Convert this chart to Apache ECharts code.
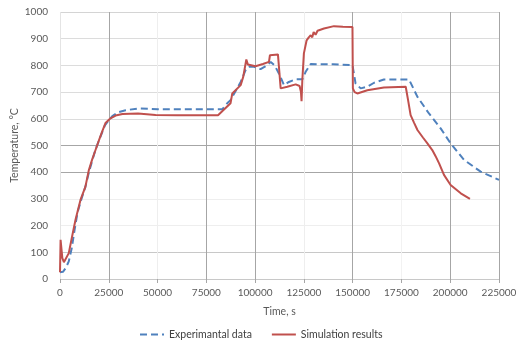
<!DOCTYPE html>
<html>
<head>
<meta charset="utf-8">
<script src="https://cdn.jsdelivr.net/npm/echarts@6/dist/echarts.min.js"></script>
<style>
  html, body { margin: 0; padding: 0; background: #fff; }
  #main { width: 517px; height: 340px; }
</style>
</head>
<body>
<div id="main"></div>
<script>
// time (s) / temperature (°C)
var expTime = [0, 1500, 3000, 4500, 6000, 7500, 9000, 11000, 13000, 15000, 18000, 20000, 23000, 25000, 26800, 30000, 33600, 40300, 50000, 83200, 85700, 87400, 92600, 95100, 96800, 99400, 102800, 105000, 108000, 110000, 112200, 114800, 117300, 120800, 124200, 125900, 128500, 140000, 149900, 151500, 154100, 157500, 161000, 166000, 178900, 183200, 189100, 195100, 200200, 207100, 215600, 225000];
var expTemp = [25, 27, 42, 66, 115, 185, 250, 300, 345, 405, 480, 520, 575, 595, 610, 625, 632, 639, 636, 636, 658, 670, 738, 782, 795, 795, 786, 795, 813, 800, 770, 726, 738, 748, 748, 776, 805, 804, 801, 732, 714, 720, 735, 747, 747, 682, 620, 564, 508, 446, 402, 371];

var simTime = [0, 300, 1200, 2000, 3000, 4500, 6200, 7950, 10500, 13000, 14800, 16500, 18200, 20000, 21500, 23300, 25900, 28500, 32000, 40000, 49000, 60000, 81000, 87400, 88300, 92600, 93900, 95500, 96300, 100200, 104000, 107100, 107600, 111700, 113100, 114000, 116500, 120800, 122800, 123500, 123800, 124200, 125000, 126400, 127500, 128500, 129300, 130000, 131000, 132000, 133000, 135300, 140400, 145000, 149900, 150100, 151000, 152400, 157500, 166000, 177200, 178400, 179700, 181500, 183200, 186000, 188300, 190800, 192500, 194300, 196800, 200200, 205400, 210100];
var simTemp = [25, 147, 78, 63, 70, 97, 159, 222, 296, 345, 408, 448, 483, 520, 550, 584, 602, 612, 618, 620, 614, 613, 613, 658, 695, 726, 757, 822, 803, 797, 805, 813, 838, 841, 714, 710, 720, 729, 723, 700, 666, 745, 845, 894, 905, 913, 905, 925, 915, 930, 925, 938, 947, 945, 944, 714, 700, 695, 707, 717, 720, 670, 614, 585, 558, 530, 508, 483, 460, 433, 390, 352, 321, 300];

var seriesNames = ['Experimantal data', 'Simulation results'];

function pairs(xs, ys) {
  var out = [];
  for (var i = 0; i < xs.length; i++) {
    out.push([xs[i], ys[i]]);
  }
  return out;
}

function plain(v) {
  return String(v);
}

var font = 'Lato, "Liberation Sans", sans-serif';
var textColor = '#595959';

// the source image was resampled, so some grid lines look darker than others
var xGridColors = ['#e4e4e4', '#a6a6a6', '#eeeeee', '#a6a6a6', '#a6a6a6', '#eeeeee', '#a6a6a6', '#f2f2f2', '#a6a6a6', '#a6a6a6'];
var yGridColors = ['#c8c8c8', '#c8c8c8', '#eeeeee', '#eeeeee', '#a6a6a6', '#a6a6a6', '#dcdcdc', '#dcdcdc', '#dcdcdc', '#dcdcdc', '#d4d4d4'];

var myChart = echarts.init(document.getElementById('main'), null, { renderer: 'canvas' });
var option = {
  animation: false,
  backgroundColor: '#fff',
  grid: { left: 60, top: 12, width: 439, height: 267, containLabel: false, outerBoundsMode: 'none' },
  legend: {
    left: 134,
    top: 324,
    itemWidth: 24,
    itemHeight: 12,
    itemGap: 19,
    itemStyle: { opacity: 0 },
    textStyle: { color: '#404040', fontFamily: font, fontSize: 10.5 },
    data: seriesNames
  },
  xAxis: {
    type: 'value',
    min: 0,
    max: 225000,
    interval: 25000,
    name: 'Time, s',
    nameLocation: 'middle',
    nameGap: 27,
    nameMoveOverlap: false,
    nameTextStyle: { color: textColor, fontFamily: font, fontSize: 10.5 },
    axisLine: { show: false },
    axisTick: { show: true, length: 4, lineStyle: { color: '#a6a6a6' } },
    axisLabel: { color: textColor, fontFamily: font, fontSize: 10, margin: 9, formatter: plain },
    splitLine: { show: true, lineStyle: { color: xGridColors, width: 1 } }
  },
  yAxis: {
    type: 'value',
    min: 0,
    max: 1000,
    interval: 100,
    name: 'Temperature, °C',
    nameLocation: 'middle',
    nameGap: 40,
    nameMoveOverlap: false,
    nameTextStyle: { color: textColor, fontFamily: font, fontSize: 10.5 },
    axisLine: { show: false },
    axisTick: { show: false },
    axisLabel: { color: textColor, fontFamily: font, fontSize: 10, margin: 12, formatter: plain },
    splitLine: { show: true, lineStyle: { color: yGridColors, width: 1 } }
  },
  series: [
    {
      name: seriesNames[0],
      type: 'line',
      symbol: 'none',
      z: 2,
      lineStyle: { color: '#4f81bd', width: 2, type: [7, 4] },
      itemStyle: { color: '#4f81bd' },
      data: pairs(expTime, expTemp)
    },
    {
      name: seriesNames[1],
      type: 'line',
      symbol: 'none',
      z: 3,
      lineStyle: { color: '#c0504d', width: 2 },
      itemStyle: { color: '#c0504d' },
      data: pairs(simTime, simTemp)
    }
  ]
};
myChart.setOption(option);
</script>
</body>
</html>
